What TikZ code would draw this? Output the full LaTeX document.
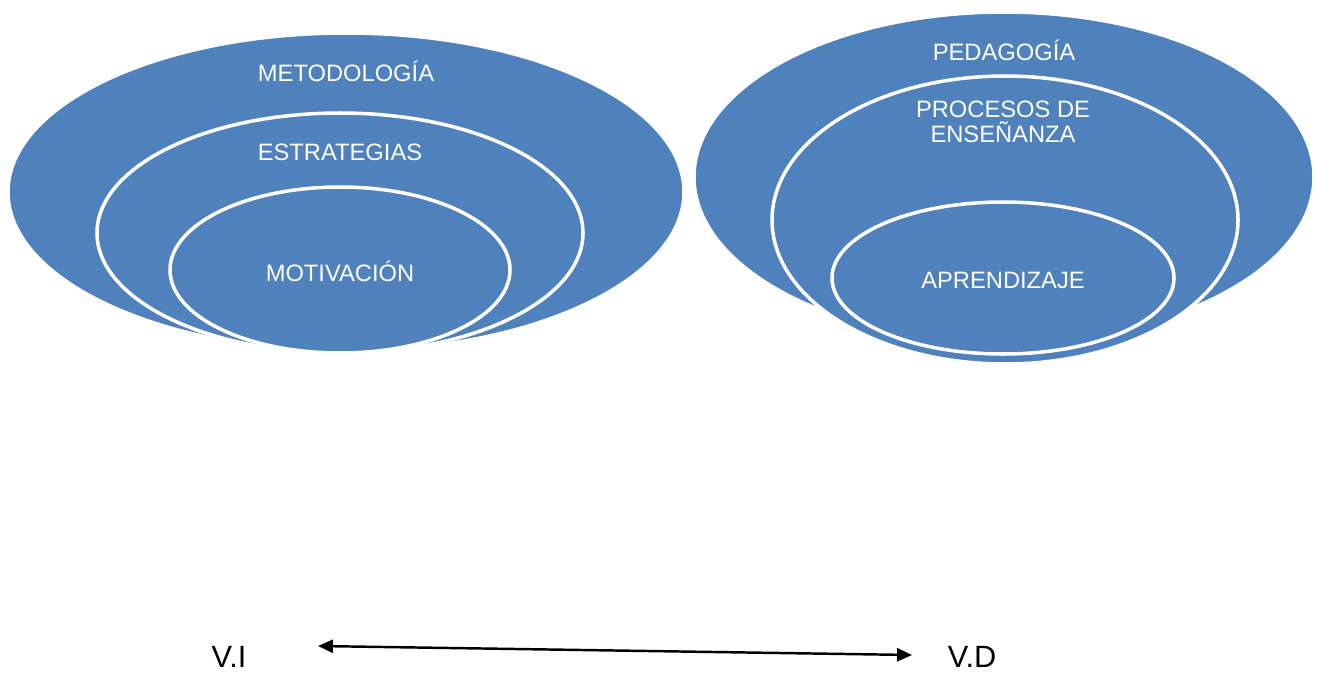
\documentclass[tikz,border=0pt]{standalone}
\usepackage{fontspec}
\setmainfont{Liberation Sans}
\usetikzlibrary{arrows.meta}
\definecolor{ringblue}{HTML}{4F81BD}
\tikzset{
	ring/.style={fill=ringblue,draw=white,line width=2pt},
	ringtext/.style={text=white,align=center,font=\fontsize{13.5}{14.2}\selectfont},
	varlabel/.style={font=\fontsize{17.5}{20}\selectfont}
}
\begin{document}
\begin{tikzpicture}[x=0.02cm,y=-0.02cm]
	\useasboundingbox (0,0) rectangle (1317,673);

	% left rings
	\draw[ring] (346,192) ellipse (338 and 159);
	\draw[ring] (340,233) ellipse (243 and 120);
	\draw[ring] (340,270) ellipse (170 and 83);
	\node[ringtext] (metodologia) at (346,71) {METODOLOGÍA};
	\node[ringtext] (estrategias) at (340,152) {ESTRATEGIAS};
	\node[ringtext] (motivacion) at (340,271) {MOTIVACIÓN};

	% right rings
	\draw[ring] (1004,177) ellipse (310 and 165);
	\draw[ring] (1005,220) ellipse (233 and 144);
	\draw[ring] (1003,278) ellipse (171 and 76);
	\node[ringtext] (pedagogia) at (1004,50) {PEDAGOGÍA};
	\node[ringtext] (procesos) at (1003,122) {PROCESOS DE\\ENSEÑANZA};
	\node[ringtext] (aprendizaje) at (1003,280) {APRENDIZAJE};

	\node[varlabel] (vi) at (229,657) {V.I};
	\node[varlabel] (vd) at (972,657) {V.D};
	\coordinate (vi-end) at (318,646);
	\coordinate (vd-end) at (912,655);
	\draw[line width=1.4pt,{Triangle[length=8.5pt,width=7.4pt]}-{Triangle[length=8.5pt,width=7.4pt]}] (vi-end) -- (vd-end);
\end{tikzpicture}
\end{document}
